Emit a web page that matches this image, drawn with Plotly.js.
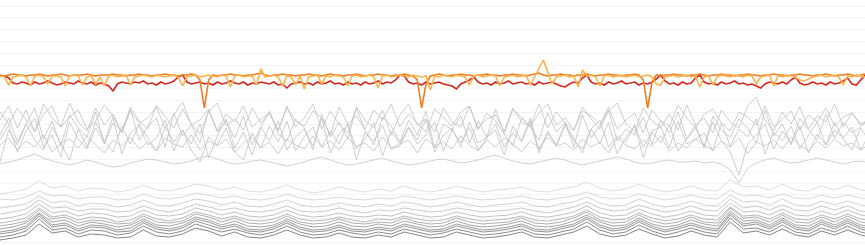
<!DOCTYPE html>
<html><head><meta charset="utf-8">
<script src="https://cdn.plot.ly/plotly-3.0.1.min.js"></script>
<style>html,body{margin:0;padding:0;background:#fff}#chart{width:865px;height:245px}</style>
</head><body><div id="chart"></div>
<script>
// Colored series, one value per step (step = 1)
const redSeries = [76,76,78,83,84,82,83,85,82,84,83,81,83,85,84,82,83,84,81,83,
84,82,85,83,84,86,91,84,82,83,84,82,83,81,84,83,85,82,84,83,
81,77,75,82,84,83,82,84,83,85,82,84,83,81,83,84,82,85,83,84,
82,83,84,82,85,84,88,84,83,82,84,83,85,82,84,83,81,84,83,85,
82,84,83,85,82,84,83,81,84,82,83,80,75,76,82,84,83,85,82,84,
83,82,84,85,86,89,84,82,80,77,82,84,83,85,82,84,83,81,84,83,
82,84,83,85,82,84,83,82,84,86,87,84,82,83,78,75,82,84,83,85,
82,84,83,81,84,83,82,85,83,84,82,79,75,81,84,83,85,82,84,83,
78,75,82,84,83,85,82,84,83,81,84,83,85,84,86,88,84,82,83,84,
82,84,80,77,83,85,84,82,84,83,85,82,84,83,81,78,84,85,80,75];
const orangeSeries = [75,76,75,74,75,75,76,75,75,74,75,76,75,75,74,75,76,75,75,75,
74,75,76,75,75,75,74,75,75,76,75,75,74,75,75,76,75,75,74,75,
75,76,75,75,74,75,80,108,80,75,76,75,75,74,75,75,76,75,75,74,
73,75,76,75,75,74,75,75,76,75,75,74,75,75,76,75,74,75,75,76,
75,75,74,75,76,75,75,74,75,75,76,75,75,74,75,76,80,108,84,76,
75,74,75,76,75,75,74,75,75,76,75,75,74,75,75,76,75,75,74,75,
75,76,75,74,73,75,76,75,75,74,75,75,76,75,75,74,75,76,75,75,
74,75,75,76,75,75,74,75,80,108,82,75,76,75,75,74,75,75,76,75,
75,74,75,76,75,75,74,75,75,76,75,75,74,75,75,76,75,75,74,75,
75,76,75,75,74,75,75,76,75,75,74,75,76,75,75,74,75,76,75,74];
const lightOrangeSeries = [76,77,85,77,76,75,77,86,76,75,77,84,76,76,77,86,76,75,76,85,
77,76,84,77,86,76,75,77,76,75,85,77,76,75,76,77,75,76,77,76,
75,77,86,77,76,75,77,76,75,76,77,75,76,87,76,75,77,76,76,85,
69,77,76,75,77,86,76,77,85,76,89,77,76,75,84,76,77,75,76,77,
86,76,75,77,76,75,77,88,76,75,77,76,75,76,77,75,76,77,76,90,
76,77,75,76,77,75,76,77,85,76,75,77,76,75,76,86,77,76,75,77,
76,75,85,77,68,60,72,84,77,76,75,77,76,87,70,76,75,77,86,76,
75,77,76,75,77,76,75,77,76,75,77,84,85,77,76,75,77,76,75,77,
76,87,77,76,85,77,75,76,77,75,76,77,75,76,84,77,76,75,86,76,
77,75,76,77,80,81,79,77,76,75,77,76,75,77,85,76,77,75,76,77];

// Middle grey series, sampled every 2 steps
const spiky1 = [120,106,128,110,132,104,118,127,103,122,131,108,125,114,133,107,121,129,105,117,128,109,124,134,112,103,126,119,130,108,123,113,131,106,127,118,104,129,111,124,133,107,120,128,110,135,115,104,125,119,132,108,122,127,106,130,113,121,134,109,117,126,104,128,112,123,131,107,119,129,111,103,124,132,108,121,127,114,130,105,125,118,133,110,122,128,106,97,120,131,112,124,107,129,116,122,104,127,113,125,118];
const spiky2 = [135,118,142,124,108,139,121,146,115,128,137,112,144,123,131,109,140,126,118,147,113,136,125,143,110,132,121,138,116,145,127,111,134,141,119,128,150,114,137,122,139,108,131,145,117,126,142,120,135,111,148,124,130,116,143,121,137,109,134,146,118,127,140,113,132,122,147,115,138,126,110,141,129,135,117,144,120,133,112,139,125,148,116,131,137,119,128,143,110,136,124,145,118,130,140,114,138,122,133,127,119];
const spiky3 = [140,125,152,131,118,147,135,157,122,139,149,128,143,117,154,133,126,145,138,120,151,130,144,124,158,136,119,148,132,155,127,141,121,150,137,129,146,118,153,134,125,149,139,123,156,131,144,127,140,119,152,135,128,147,122,143,137,130,155,126,141,118,150,133,145,124,138,153,129,120,147,136,142,125,158,131,127,148,121,144,139,133,151,123,146,129,137,119,154,132,141,126,149,135,122,145,130,138,127,150,134];
const spiky4 = [162,130,145,124,140,150,127,143,160,129,147,122,141,152,126,144,124,138,151,127,142,130,150,162,137,145,128,152,160,133,148,126,142,121,151,137,127,147,131,144,123,160,132,141,125,149,146,128,144,135,122,151,130,143,127,150,138,124,147,133,142,121,153,131,146,125,141,149,129,144,122,154,137,126,147,132,143,125,151,139,128,146,122,141,152,175,144,135,124,149,131,143,126,153,134,145,122,139,150,128,141];
const spiky5 = [145,138,150,141,147,135,152,143,139,148,136,145,153,140,146,137,149,142,151,138,144,147,135,150,141,146,139,152,143,137,148,142,154,139,145,149,136,147,141,150,138,146,143,151,137,148,144,140,153,139,146,142,149,136,145,151,140,147,138,144,152,141,148,137,146,143,150,139,147,142,153,138,145,149,140,146,136,151,143,148,139,145,150,141,147,138,154,142,146,140,149,137,145,151,141,148,139,146,143,150,144];
const spiky6 = [112,124,108,119,131,114,106,127,117,110,129,121,105,116,133,111,123,118,107,128,115,102,125,120,109,131,114,122,106,127,119,113,130,108,121,126,111,118,135,107,124,116,129,110,120,104,127,114,123,132,109,117,126,112,106,128,119,115,131,108,122,127,113,104,125,118,130,111,116,124,107,129,120,113,133,110,121,126,105,118,128,114,109,123,131,112,117,125,106,127,119,111,130,115,122,108,126,117,113,124,120];
const smooth1 = [164,162,160,157,154,158,161,163,165,163,160,162,165,167,166,163,161,159,160,162,164,163,161,158,156,159,162,164,163,161,160,162,164,166,164,162,159,157,160,163,165,164,162,160,158,161,163,165,164,162,160,159,161,163,162,160,157,155,158,161,163,164,162,160,158,160,163,165,163,161,159,157,159,162,164,163,161,160,162,162,161,163,162,164,170,183,168,163,160,158,161,163,162,160,158,160,162,164,162,161,163];

// Lower grey series, sampled every 3 steps
const low1 = [194,192,189,181,188,186,191,188,189,192,190,185,190,191,188,184,186,190,187,191,192,189,185,190,193,191,187,190,192,189,191,186,190,192,190,186,189,192,190,189,187,191,192,189,187,182,188,191,189,184,189,192,190,186,190,191,180,187,186,190,184,190,191,186,190,185,190,192];
const low2 = [199,200,197,191,196,195,199,197,197,200,199,194,198,199,197,193,195,198,196,199,200,198,194,198,200,199,197,199,200,198,199,196,198,200,198,196,198,200,199,198,196,199,200,198,196,192,197,199,198,194,197,200,198,195,198,199,190,196,195,198,194,198,199,195,198,195,198,200];
const low3 = [208,206,204,196,203,201,206,203,204,207,205,200,205,206,203,199,201,205,202,206,207,204,200,205,207,206,203,205,207,204,206,202,204,207,205,202,205,207,205,204,202,206,207,204,202,197,203,206,205,199,204,207,205,201,205,206,195,202,201,205,199,205,206,201,205,201,205,207];
const low4 = [214,212,209,200,208,207,211,209,209,212,211,206,210,212,209,204,207,210,208,211,212,210,206,211,212,211,208,211,213,210,211,208,210,212,211,208,210,212,211,210,208,211,213,210,207,202,208,211,210,205,209,212,210,206,210,211,199,208,206,210,205,210,211,206,210,206,211,213];
const low5 = [219,217,214,204,213,211,216,213,214,217,216,210,215,216,214,208,211,215,212,216,217,215,210,215,217,216,213,216,217,215,216,212,215,217,216,212,215,217,216,215,212,216,217,215,212,206,213,216,215,209,214,217,215,211,215,216,203,212,211,215,209,215,216,211,215,210,215,217];
const low6 = [223,221,218,208,217,215,220,217,218,222,220,214,219,221,218,212,215,219,216,220,221,219,214,219,221,220,217,220,222,219,220,216,219,221,220,216,219,221,220,219,216,220,221,219,216,210,217,220,219,213,218,221,219,215,219,220,207,216,215,219,213,219,220,215,219,214,219,221];
const low7 = [226,224,221,210,219,217,223,220,221,224,223,216,222,223,221,214,217,222,218,223,224,222,216,222,224,223,219,223,224,222,223,218,222,224,223,218,222,224,223,222,218,223,224,222,218,212,220,223,222,215,221,224,222,217,222,223,208,218,217,222,215,222,223,217,222,216,222,224];
const low8 = [229,227,223,213,222,220,226,222,224,227,225,219,225,226,223,217,220,225,221,226,227,225,219,224,227,226,222,226,227,224,226,221,224,227,226,221,225,227,226,224,221,226,227,225,221,215,222,226,225,218,224,227,225,220,224,226,211,221,220,225,218,225,226,220,225,219,225,227];
const low9 = [232,230,226,214,225,223,229,225,226,230,228,221,227,229,226,219,222,227,224,229,230,227,221,227,230,229,225,229,230,227,229,224,227,230,229,224,227,230,229,227,224,229,230,227,224,217,225,229,227,220,226,230,227,223,227,229,213,224,222,227,220,227,229,222,227,221,227,230];
const low10 = [234,232,228,216,227,225,231,227,228,232,231,223,229,231,228,221,225,229,226,231,232,229,223,229,232,231,227,231,232,229,231,226,229,232,231,226,229,232,231,229,226,231,232,229,226,219,227,231,229,222,228,232,229,225,229,231,215,226,224,229,222,229,231,224,229,223,229,232];
const low11 = [237,235,231,219,230,228,234,230,231,235,233,226,232,234,231,224,228,232,229,233,235,232,226,232,235,234,230,233,235,232,234,229,232,235,233,229,232,235,234,232,229,234,235,232,229,222,230,234,232,225,231,235,232,228,232,234,218,229,228,232,225,232,234,228,232,226,232,235];
const low12 = [240,238,235,224,233,231,237,234,235,238,237,230,236,237,234,228,231,236,232,237,238,235,230,235,238,237,233,237,238,235,237,232,235,238,237,232,235,238,237,235,232,237,238,235,232,226,234,237,235,229,234,238,236,231,235,237,222,233,231,235,229,235,237,231,235,230,235,238];

function tr(y, step, color, width) {
  return {type:'scatter', mode:'lines', x: y.map((_, k) => k * step), y: y,
          line:{color: color, width: width, shape:'linear'}, hoverinfo:'skip'};
}
const lows = [low1,low2,low3,low4,low5,low6,low7,low8,low9,low10,low11,low12];
const lowColors = ['#d6d6d6','#cfcfcf','#c6c6c6','#bdbdbd','#b2b2b2','#a6a6a6','#9a9a9a','#8e8e8e','#828282','#777777','#6e6e6e','#666666'];
const traces = [];
[spiky1,spiky2,spiky3,spiky4,spiky5,spiky6].forEach(s => traces.push(tr(s, 2, '#c2c2c2', 0.8)));
traces.push(tr(smooth1, 2, '#cdcdcd', 0.9));
lows.forEach((s, i) => traces.push(tr(s, 3, lowColors[i], 0.8)));
traces.push(tr(redSeries, 1, '#d7261e', 1.6));
traces.push(tr(orangeSeries, 1, '#f47a20', 1.6));
traces.push(tr(lightOrangeSeries, 1, '#fdb44b', 1.6));

Plotly.newPlot('chart', traces, {
  width:865, height:245, margin:{l:0,r:0,t:0,b:0},
  paper_bgcolor:'#ffffff', plot_bgcolor:'#ffffff', showlegend:false,
  xaxis:{range:[0,199], showgrid:false, zeroline:false, showticklabels:false, ticks:''},
  yaxis:{range:[245,0], tick0:6, dtick:11.8, showgrid:true, gridcolor:'#f4f4f4', gridwidth:1,
         zeroline:false, showticklabels:false, ticks:''}
}, {staticPlot:true, displayModeBar:false});
</script></body></html>
